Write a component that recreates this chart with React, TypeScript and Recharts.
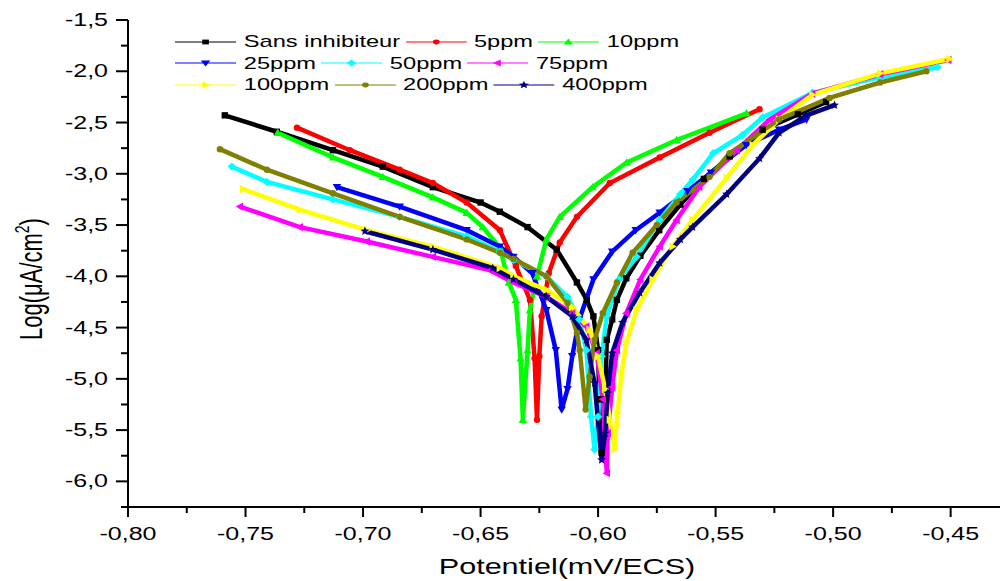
import React from 'react';
import { LineChart, Line, XAxis, YAxis } from 'recharts';

// potential (V) / log(i) pairs
const sansInhibiteur = [
  [-0.7588, -2.43], [-0.7367, -2.59], [-0.7128, -2.77], [-0.6916, -2.93], [-0.6703, -3.13], [-0.65, -3.28],
  [-0.6418, -3.37], [-0.63, -3.52], [-0.6176, -3.74], [-0.609, -4.06], [-0.6048, -4.23], [-0.602, -4.39],
  [-0.6, -4.72], [-0.5995, -5.2], [-0.5985, -5.72], [-0.597, -5.2], [-0.5963, -4.62], [-0.594, -4.42],
  [-0.592, -4.23], [-0.588, -4.02], [-0.582, -3.8], [-0.574, -3.55], [-0.565, -3.3], [-0.555, -3.05],
  [-0.544, -2.83], [-0.53, -2.57], [-0.515, -2.42], [-0.503, -2.3],
];
const ppm5 = [
  [-0.7281, -2.55], [-0.7056, -2.77], [-0.6844, -2.96], [-0.6703, -3.09], [-0.6559, -3.28], [-0.6418, -3.55],
  [-0.635, -3.9], [-0.629, -4.23], [-0.627, -4.8], [-0.626, -5.4], [-0.625, -4.78], [-0.624, -4.39],
  [-0.621, -3.97], [-0.6163, -3.67], [-0.609, -3.42], [-0.595, -3.09], [-0.5738, -2.84], [-0.5526, -2.6],
  [-0.5313, -2.37],
];
const ppm10 = [
  [-0.7363, -2.6], [-0.7128, -2.84], [-0.6916, -3.03], [-0.6703, -3.23], [-0.6559, -3.38], [-0.6491, -3.52],
  [-0.6418, -3.72], [-0.638, -4.06], [-0.635, -4.23], [-0.633, -4.8], [-0.632, -5.4], [-0.63, -4.72],
  [-0.629, -4.33], [-0.626, -4.0], [-0.622, -3.64], [-0.6163, -3.42], [-0.6023, -3.13], [-0.5878, -2.89],
  [-0.5666, -2.67], [-0.5368, -2.41],
];
const ppm25 = [
  [-0.7111, -3.13], [-0.6844, -3.32], [-0.6559, -3.55], [-0.6418, -3.71], [-0.636, -3.81], [-0.628, -3.97],
  [-0.622, -4.33], [-0.618, -4.72], [-0.6155, -5.3], [-0.613, -5.1], [-0.611, -4.78], [-0.608, -4.42],
  [-0.602, -4.03], [-0.594, -3.76], [-0.584, -3.55], [-0.5738, -3.38], [-0.562, -3.17], [-0.552, -2.99],
  [-0.537, -2.72], [-0.523, -2.57], [-0.5113, -2.47],
];
const ppm50 = [
  [-0.7558, -2.93], [-0.7409, -3.08], [-0.7128, -3.25], [-0.6844, -3.42], [-0.6559, -3.61], [-0.6418, -3.76],
  [-0.636, -3.84], [-0.622, -4.0], [-0.613, -4.2], [-0.608, -4.42], [-0.605, -4.72], [-0.603, -5.37],
  [-0.6015, -5.69], [-0.6, -5.37], [-0.5985, -4.78], [-0.5963, -4.39], [-0.591, -4.03], [-0.5836, -3.81],
  [-0.5738, -3.45], [-0.565, -3.2], [-0.5598, -3.06], [-0.551, -2.8], [-0.5385, -2.62], [-0.53, -2.45],
  [-0.5088, -2.21], [-0.48, -2.06], [-0.4556, -1.96],
];
const ppm75 = [
  [-0.7524, -3.32], [-0.7269, -3.52], [-0.6984, -3.66], [-0.6703, -3.81], [-0.6461, -3.94], [-0.636, -4.06],
  [-0.622, -4.2], [-0.611, -4.36], [-0.605, -4.49], [-0.6006, -4.75], [-0.598, -5.2], [-0.5963, -5.92],
  [-0.5959, -5.53], [-0.594, -5.08], [-0.592, -4.72], [-0.588, -4.36], [-0.582, -4.03], [-0.5738, -3.71],
  [-0.5666, -3.45], [-0.557, -3.13], [-0.541, -2.77], [-0.527, -2.47], [-0.509, -2.22], [-0.48, -2.03],
  [-0.451, -1.89],
];
const ppm100 = [
  [-0.7511, -3.15], [-0.7269, -3.35], [-0.6984, -3.55], [-0.6703, -3.71], [-0.6418, -3.92], [-0.636, -4.0],
  [-0.622, -4.13], [-0.611, -4.3], [-0.6036, -4.52], [-0.6, -4.78], [-0.597, -5.1], [-0.595, -5.4],
  [-0.593, -5.69], [-0.5917, -5.33], [-0.59, -4.94], [-0.588, -4.65], [-0.5836, -4.33], [-0.5768, -4.03],
  [-0.5683, -3.71], [-0.5598, -3.45], [-0.5453, -3.04], [-0.5342, -2.72], [-0.523, -2.47], [-0.5088, -2.23],
  [-0.48, -2.02], [-0.4505, -1.88],
];
const ppm200 = [
  [-0.7609, -2.76], [-0.7409, -2.96], [-0.7128, -3.19], [-0.6844, -3.42], [-0.6559, -3.64], [-0.6418, -3.77],
  [-0.636, -3.83], [-0.622, -4.0], [-0.613, -4.26], [-0.609, -4.55], [-0.6078, -4.72], [-0.6053, -5.3],
  [-0.6036, -4.98], [-0.6015, -4.62], [-0.598, -4.36], [-0.592, -4.06], [-0.5853, -3.77], [-0.575, -3.5],
  [-0.5666, -3.28], [-0.5526, -3.03], [-0.544, -2.8], [-0.523, -2.47], [-0.5015, -2.26], [-0.48, -2.11],
  [-0.4603, -2.0],
];
const ppm400 = [
  [-0.6992, -3.56], [-0.6703, -3.74], [-0.6448, -3.92], [-0.636, -4.03], [-0.622, -4.2], [-0.611, -4.39],
  [-0.605, -4.62], [-0.6015, -5.04], [-0.5985, -5.79], [-0.597, -5.53], [-0.5959, -5.14], [-0.594, -4.75],
  [-0.5896, -4.45], [-0.5823, -4.16], [-0.5738, -3.87], [-0.565, -3.64], [-0.5598, -3.52], [-0.5453, -3.2],
  [-0.5313, -2.85], [-0.523, -2.6], [-0.5113, -2.43], [-0.4994, -2.33],
];

const seriesNames = ['Sans inhibiteur', '5ppm', '10ppm', '25ppm', '50ppm', '75ppm', '100ppm', '200ppm', '400ppm'];
const seriesPoints = [sansInhibiteur, ppm5, ppm10, ppm25, ppm50, ppm75, ppm100, ppm200, ppm400];
const seriesColors = ['#000000', '#ff0000', '#00ff00', '#0000ff', '#00ffff', '#ff00ff', '#ffff00', '#808000', '#000080'];
const seriesShapes = ['square', 'circle', 'up', 'down', 'diamond', 'left', 'right', 'circle', 'star'];

const xMajor = [-0.8, -0.75, -0.7, -0.65, -0.6, -0.55, -0.5, -0.45];
const xMinor = [-0.775, -0.725, -0.675, -0.625, -0.575, -0.525, -0.475];
const yMajor = [-1.5, -2.0, -2.5, -3.0, -3.5, -4.0, -4.5, -5.0, -5.5, -6.0];
const yMinor = [-1.75, -2.25, -2.75, -3.25, -3.75, -4.25, -4.75, -5.25, -5.75, -6.25];

const font = '"Liberation Sans", Arial, sans-serif';
const stretch = 1.39; // the source image is widened, text too
const isMajor = (list: number[], v: number) => list.some((m) => Math.abs(m - v) < 1e-6);
const comma = (v: number, d: number) => v.toFixed(d).replace('.', ',');

const Marker = ({ cx, cy, shape, color, r = 3 }: any) => {
  if (cx == null || cy == null) return null;
  const s = r;
  switch (shape) {
    case 'square':
      return <rect x={cx - s} y={cy - s} width={2 * s} height={2 * s} fill={color} />;
    case 'up':
      return <polygon points={`${cx},${cy - s - 1} ${cx - s - 1},${cy + s} ${cx + s + 1},${cy + s}`} fill={color} />;
    case 'down':
      return <polygon points={`${cx},${cy + s + 1} ${cx - s - 1},${cy - s} ${cx + s + 1},${cy - s}`} fill={color} />;
    case 'left':
      return <polygon points={`${cx - s - 1},${cy} ${cx + s},${cy - s - 1} ${cx + s},${cy + s + 1}`} fill={color} />;
    case 'right':
      return <polygon points={`${cx + s + 1},${cy} ${cx - s},${cy - s - 1} ${cx - s},${cy + s + 1}`} fill={color} />;
    case 'diamond':
      return <polygon points={`${cx},${cy - s - 1} ${cx + s + 1},${cy} ${cx},${cy + s + 1} ${cx - s - 1},${cy}`} fill={color} />;
    case 'star': {
      const pts: string[] = [];
      for (let i = 0; i < 10; i++) {
        const rr = i % 2 === 0 ? s + 1.5 : (s + 1.5) * 0.45;
        const a = -Math.PI / 2 + (i * Math.PI) / 5;
        pts.push(`${cx + rr * Math.cos(a)},${cy + rr * Math.sin(a)}`);
      }
      return <polygon points={pts.join(' ')} fill={color} />;
    }
    default:
      return <circle cx={cx} cy={cy} r={s} fill={color} />;
  }
};

const YTick = ({ x, y, payload }: any) => {
  const major = isMajor(yMajor, payload.value);
  return (
    <g>
      <line x1={x - (major ? 12 : 7)} x2={x} y1={y} y2={y} stroke="#000" strokeWidth={2} />
      {major && (
        <text transform={`translate(${x - 20},${y + 6}) scale(${stretch},1)`} textAnchor="end" fontSize={18} fontFamily={font} fill="#000">
          {comma(payload.value, 1)}
        </text>
      )}
    </g>
  );
};

const XTick = ({ x, y, payload }: any) => {
  const major = isMajor(xMajor, payload.value);
  return (
    <g>
      <line x1={x} x2={x} y1={y} y2={y + (major ? 10 : 6)} stroke="#000" strokeWidth={2} />
      {major && (
        <text transform={`translate(${x},${y + 33}) scale(${stretch},1)`} textAnchor="middle" fontSize={18} fontFamily={font} fill="#000">
          {comma(payload.value, 2)}
        </text>
      )}
    </g>
  );
};

const TopTick = ({ x, y, payload }: any) => {
  const major = isMajor(xMajor, payload.value);
  return <line x1={x} x2={x} y1={y} y2={y + (major ? 6 : 3)} stroke="#000" strokeWidth={1} />;
};

const LegendBox = () => {
  const rows = [[0, 1, 2], [3, 4, 5], [6, 7, 8]];
  return (
    <div
      style={{
        position: 'absolute', left: 175, top: 31, fontFamily: font, fontSize: 17, lineHeight: '21.5px',
        color: '#000', transform: `scaleX(${stretch})`, transformOrigin: 'left top', pointerEvents: 'none',
      }}
    >
      {rows.map((row, ri) => (
        <div key={ri} style={{ display: 'flex', alignItems: 'center', whiteSpace: 'nowrap' }}>
          {row.map((i) => (
            <span key={i} style={{ display: 'inline-flex', alignItems: 'center', marginRight: 3.6 }}>
              <svg width={44} height={12} style={{ marginRight: 5.5 }}>
                <line x1={0} x2={44} y1={6} y2={6} stroke={seriesColors[i]} strokeWidth={1.2} />
                <Marker cx={22} cy={6} shape={seriesShapes[i]} color={seriesColors[i]} r={2.4} />
              </svg>
              {seriesNames[i]}
            </span>
          ))}
        </div>
      ))}
    </div>
  );
};

export default function App() {
  const allX = [...xMajor, ...xMinor].sort((a, b) => a - b);
  return (
    <div style={{ position: 'absolute', left: 0, top: 0, width: 1000, height: 581, background: '#fff' }}>
      <LineChart width={1000} height={581} margin={{ top: 20, right: 0, bottom: 0, left: 0 }}>
        <XAxis
          dataKey="x"
          type="number"
          domain={[-0.8, -0.429]}
          ticks={allX}
          allowDataOverflow
          height={74}
          tickSize={0}
          tickMargin={0}
          tickLine={false}
          tick={<XTick />}
          axisLine={{ stroke: '#000', strokeWidth: 2 }}
          label={{
            content: ({ viewBox }: any) => (
              <text
                transform={`translate(${viewBox.x + viewBox.width / 2 + 3},${viewBox.y + 67}) scale(${stretch},1)`}
                textAnchor="middle" fontSize={22} fontFamily={font} fill="#000"
              >
                Potentiel(mV/ECS)
              </text>
            ),
          }}
        />
        <XAxis
          xAxisId="top"
          orientation="top"
          dataKey="x"
          type="number"
          domain={[-0.8, -0.429]}
          ticks={allX}
          allowDataOverflow
          height={0}
          tickSize={0}
          tickMargin={0}
          tickLine={false}
          tick={<TopTick />}
          axisLine={{ stroke: '#000', strokeWidth: 2 }}
        />
        <YAxis
          type="number"
          domain={[-6.25, -1.5]}
          ticks={[...yMajor, ...yMinor].sort((a, b) => a - b)}
          allowDataOverflow
          width={128}
          tickSize={0}
          tickMargin={0}
          tickLine={false}
          tick={<YTick />}
          axisLine={{ stroke: '#000', strokeWidth: 2 }}
          label={{
            content: () => (
              <text transform={`translate(42,279) scale(${stretch},1) rotate(-90)`} textAnchor="middle" fontSize={22} fontFamily={font} fill="#000">
                Log(μA/cm<tspan dy={-9} fontSize={14}>2</tspan><tspan dy={9}>)</tspan>
              </text>
            ),
          }}
        />
        {seriesPoints.map((pts, i) => (
          <Line
            key={seriesNames[i]}
            name={seriesNames[i]}
            data={pts.map(([x, y]) => ({ x, y }))}
            dataKey="y"
            type="linear"
            stroke={seriesColors[i]}
            strokeWidth={4.5}
            dot={(p: any) => <Marker key={p.index} cx={p.cx} cy={p.cy} shape={seriesShapes[i]} color={seriesColors[i]} r={3.2} />}
            activeDot={false}
            isAnimationActive={false}
          />
        ))}
      </LineChart>
      <LegendBox />
    </div>
  );
}
